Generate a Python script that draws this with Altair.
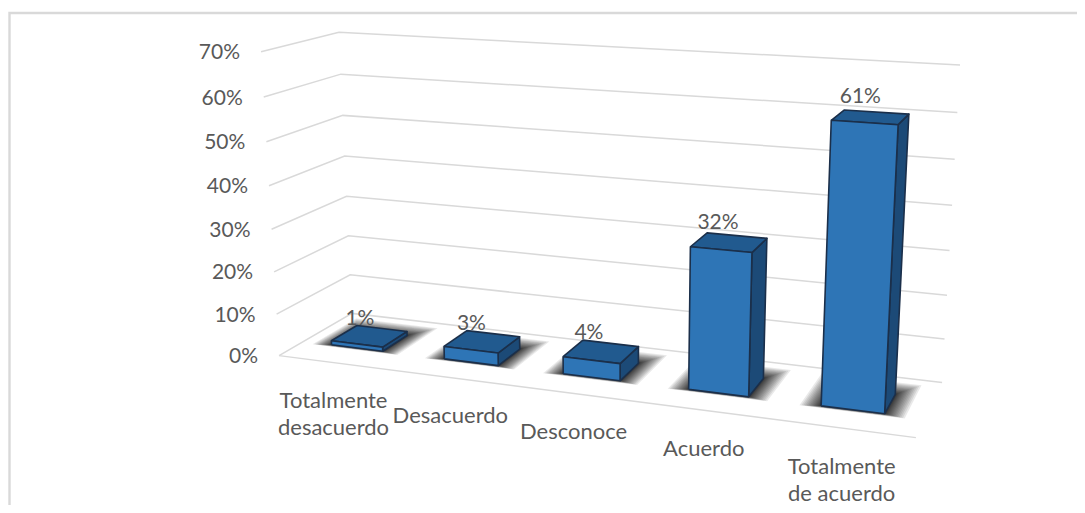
import numpy as np
import pandas as pd
import altair as alt

categories = [["Totalmente", "desacuerdo"], ["Desacuerdo"], ["Desconoce"], ["Acuerdo"], ["Totalmente", "de acuerdo"]]
values = [1, 3, 4, 32, 61]
ticks = [0, 10, 20, 30, 40, 50, 60, 70]

# camera calibration: (u, v, h/70) box corners -> picture position
anchor_world = [(0,0,0),(1,0,0),(1,1,0),(0,1,0),(0,0,1),(0,1,1),(1,1,1)]
anchor_image = [(279,355),(916,438),(942,382),(352,314),(261,52),(339,32),(960,65)]
BAR_W = 0.092
V0, V1 = 0.32, 0.68
FONT = "Lato"
TEXT = "#595959"

A, b = [], []
for (X, Y, Z), (x, y) in zip(anchor_world, anchor_image):
    A.append([X, Y, Z, 1, 0, 0, 0, 0, -x*X, -x*Y, -x*Z]); b.append(x)
    A.append([0, 0, 0, 0, X, Y, Z, 1, -y*X, -y*Y, -y*Z]); b.append(y)
p = np.linalg.lstsq(np.array(A, float), np.array(b, float), rcond=None)[0]

def proj(u, v, h):
    z = h / 70
    w = p[8]*u + p[9]*v + p[10]*z + 1
    return (p[0]*u + p[1]*v + p[2]*z + p[3]) / w, (p[4]*u + p[5]*v + p[6]*z + p[7]) / w

def rows(polys):
    out = []
    for i, poly in enumerate(polys):
        for j, pt in enumerate(poly):
            x, y = proj(*pt)
            out.append({"x": x, "y": y, "poly": i, "seq": j})
    return pd.DataFrame(out)

X = alt.X("x:Q", axis=None, scale=alt.Scale(domain=[8, 1077], range=[0, 1069], nice=False, zero=False))
Y = alt.Y("y:Q", axis=None, scale=alt.Scale(domain=[8, 505], range=[0, 497], nice=False, zero=False))

def lines(polys, **kw):
    return alt.Chart(rows(polys)).mark_line(**kw).encode(x=X, y=Y, detail="poly:N", order="seq:Q")

def closed(pts):
    return pts + [pts[0]]

layers = []

# frame
frame = pd.DataFrame({"x": [1077, 9.5, 9.5], "y": [13, 13, 505], "seq": [0, 1, 2]})
layers.append(alt.Chart(frame).mark_line(color="#D9D9D9", strokeWidth=2.4).encode(x=X, y=Y, order="seq:Q"))

# gridlines
grid = [[(0, 0, t), (0, 1, t), (1, 1, t)] for t in ticks]
grid.append([(0, 0, 0), (1, 0, 0)])
layers.append(lines(grid, color="#D9D9D9", strokeWidth=1.5))

# shadows: nested floor rectangles, denser towards the bar
centres = [(i + 0.5) / 5 - 0.003 for i in range(5)]
N = 18
for k in range(N, 0, -1):
    f = (k / N) ** 1.6
    du = 0.03 * f
    vb, vf = V1 + 0.22 * f, V0 - 0.035 * f
    polys = [closed([(c - BAR_W/2 - du, vf, 0), (c + BAR_W/2 + du, vf, 0),
                     (c + BAR_W/2 + du, vb, 0), (c - BAR_W/2 - du, vb, 0)]) for c in centres]
    layers.append(lines(polys, fill="#000000", fillOpacity=0.085, strokeWidth=0, stroke="#000000", strokeOpacity=0))

EDGE = "#1B2F4A"
side, top, front = [], [], []
for c, v in zip(centres, values):
    l, r = c - BAR_W/2, c + BAR_W/2
    side.append(closed([(r, V0, 0), (r, V1, 0), (r, V1, v), (r, V0, v)]))
    top.append(closed([(l, V0, v), (r, V0, v), (r, V1, v), (l, V1, v)]))
    front.append(closed([(l, V0, 0), (r, V0, 0), (r, V0, v), (l, V0, v)]))
layers.append(lines(side, fill="#1C4A77", stroke=EDGE, strokeWidth=1.6, strokeJoin="round"))
layers.append(lines(top, fill="#215A8F", stroke=EDGE, strokeWidth=1.6, strokeJoin="round"))
layers.append(lines(front, fill="#2E75B6", stroke=EDGE, strokeWidth=1.6, strokeJoin="round"))

# tick labels
tk = []
for t in ticks:
    x, y = proj(0, 0, t)
    tk.append({"x": x, "y": y, "t": f"{t}%"})
layers.append(alt.Chart(pd.DataFrame(tk)).mark_text(font=FONT, fontSize=21, color=TEXT, align="right", baseline="middle", dx=-21, dy=1.5)
              .encode(x=X, y=Y, text="t:N"))

# data labels
dl = []
for c, v in zip(centres, values):
    x, y = proj(c, V1, v)
    dl.append({"x": x + 0.1 * v, "y": y - 0.09 * v, "t": f"{v}%"})
layers.append(alt.Chart(pd.DataFrame(dl)).mark_text(font=FONT, fontSize=21, color=TEXT, align="center", baseline="middle", dx=-22, dy=-9.5)
              .encode(x=X, y=Y, text="t:N"))

# category labels
cl = []
for c, lab in zip(centres, categories):
    x, y = proj(c, 0, 0)
    for i, line in enumerate(lab):
        cl.append({"x": x, "y": y + 27 * i, "t": line})
layers.append(alt.Chart(pd.DataFrame(cl)).mark_text(font=FONT, fontSize=22, color=TEXT, align="center", baseline="middle", dy=38.5)
              .encode(x=X, y=Y, text="t:N"))

chart = (alt.layer(*layers)
         .properties(width=1069, height=497, padding=0, background="#FFFFFF", autosize=alt.AutoSizeParams(type="none"))
         .configure_view(stroke=None))
chart.save("out.html", embed_options={"renderer": "svg", "actions": False})
